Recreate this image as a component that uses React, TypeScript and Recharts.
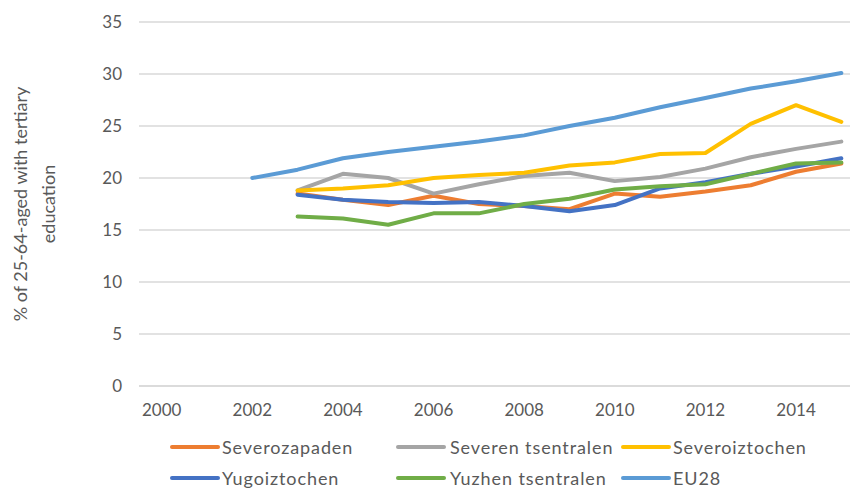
import React from "react";
import { LineChart, Line, XAxis, YAxis, CartesianGrid, Legend } from "recharts";

const years = [2002, 2003, 2004, 2005, 2006, 2007, 2008, 2009, 2010, 2011, 2012, 2013, 2014, 2015];
const severozapaden = [null, 18.5, 17.9, 17.4, 18.3, 17.5, 17.3, 17.0, 18.5, 18.2, 18.7, 19.3, 20.6, 21.4];
const severenTsentralen = [null, 18.8, 20.4, 20.0, 18.5, 19.4, 20.2, 20.5, 19.7, 20.1, 20.9, 22.0, 22.8, 23.5];
const severoiztochen = [null, 18.8, 19.0, 19.3, 20.0, 20.3, 20.5, 21.2, 21.5, 22.3, 22.4, 25.2, 27.0, 25.4];
const yugoiztochen = [null, 18.4, 17.9, 17.7, 17.6, 17.7, 17.3, 16.8, 17.4, 19.0, 19.6, 20.4, 21.1, 21.9];
const yuzhenTsentralen = [null, 16.3, 16.1, 15.5, 16.6, 16.6, 17.5, 18.0, 18.9, 19.2, 19.4, 20.4, 21.4, 21.5];
const eu28 = [20.0, 20.8, 21.9, 22.5, 23.0, 23.5, 24.1, 25.0, 25.8, 26.8, 27.7, 28.6, 29.3, 30.1];

const xTicks = [2000, 2002, 2004, 2006, 2008, 2010, 2012, 2014];
const yTicks = [0, 5, 10, 15, 20, 25, 30, 35];
const yLabelLines = ["% of 25-64-aged with tertiary", "education"];

const series = [
  { key: "Severozapaden", values: severozapaden, color: "#ED7D31" },
  { key: "Severen tsentralen", values: severenTsentralen, color: "#A5A5A5" },
  { key: "Severoiztochen", values: severoiztochen, color: "#FFC000" },
  { key: "Yugoiztochen", values: yugoiztochen, color: "#4472C4" },
  { key: "Yuzhen tsentralen", values: yuzhenTsentralen, color: "#70AD47" },
  { key: "EU28", values: eu28, color: "#5B9BD5" },
];

const data = years.map((year, i) => {
  const row: Record<string, number | null> = { year };
  series.forEach((s) => {
    row[s.key] = s.values[i];
  });
  return row;
});

const FONT = "Lato, 'Noto Sans', sans-serif";
const TEXT = "#595959";

const legendCols = [
  { swatch: 170, text: 222 },
  { swatch: 396, text: 450 },
  { swatch: 621, text: 673 },
];
const legendRows = [19, 50];

const LegendContent = () => (
  <div style={{ position: "relative", width: 850, height: 61, fontFamily: FONT }}>
    {series.map((s, i) => {
      const col = legendCols[i % 3];
      const rowY = legendRows[Math.floor(i / 3)];
      return (
        <React.Fragment key={s.key}>
          <div
            style={{
              position: "absolute",
              left: col.swatch,
              top: rowY - 2,
              width: 50,
              height: 4,
              borderRadius: 2,
              background: s.color,
            }}
          />
          <span
            style={{
              position: "absolute",
              left: col.text,
              top: rowY - 11,
              lineHeight: "22px",
              fontSize: 18,
              color: TEXT,
              whiteSpace: "nowrap",
              letterSpacing: 0.9,
            }}
          >
            {s.key}
          </span>
        </React.Fragment>
      );
    })}
  </div>
);

const YLabel = () => (
  <g>
    <text
      x={20}
      y={204}
      transform="rotate(-90, 20, 204)"
      textAnchor="middle"
      dominantBaseline="central"
      fontFamily={FONT}
      fontSize={18}
      fill={TEXT}
    >
      {yLabelLines[0]}
    </text>
    <text
      x={48}
      y={204}
      transform="rotate(-90, 48, 204)"
      textAnchor="middle"
      dominantBaseline="central"
      fontFamily={FONT}
      fontSize={18}
      fill={TEXT}
    >
      {yLabelLines[1]}
    </text>
  </g>
);

export default function App() {
  return (
    <div
      style={{
        position: "absolute",
        left: 0,
        top: 0,
        width: 850,
        height: 489,
        overflow: "hidden",
        background: "#ffffff",
      }}
    >
      <LineChart
        width={880}
        height={489}
        data={data}
        margin={{ top: 22, right: 16, left: 0, bottom: 0 }}
      >
        <CartesianGrid vertical={false} stroke="#D9D9D9" strokeWidth={1.3} />
        <XAxis
          dataKey="year"
          type="number"
          domain={[1999.5, 2015.5]}
          ticks={xTicks}
          allowDataOverflow
          height={103}
          tickLine={false}
          tickSize={0}
          tickMargin={18}
          axisLine={{ stroke: "#D9D9D9", strokeWidth: 1.3 }}
          tick={{ fill: TEXT, fontSize: 17, fontFamily: FONT }}
        />
        <YAxis
          domain={[0, 35]}
          ticks={yTicks}
          width={139}
          axisLine={false}
          tickLine={false}
          tickSize={0}
          tickMargin={17}
          tick={{ fill: TEXT, fontSize: 17, fontFamily: FONT }}
          label={{ content: () => <YLabel /> }}
        />
        <Legend
          layout="horizontal"
          verticalAlign="middle"
          align="center"
          wrapperStyle={{ top: 428, left: 0, width: 850 }}
          content={() => <LegendContent />}
        />
        {series.map((s) => (
          <Line
            key={s.key}
            type="linear"
            dataKey={s.key}
            stroke={s.color}
            strokeWidth={4}
            strokeLinecap="round"
            strokeLinejoin="round"
            dot={false}
            activeDot={false}
            isAnimationActive={false}
          />
        ))}
      </LineChart>
    </div>
  );
}
